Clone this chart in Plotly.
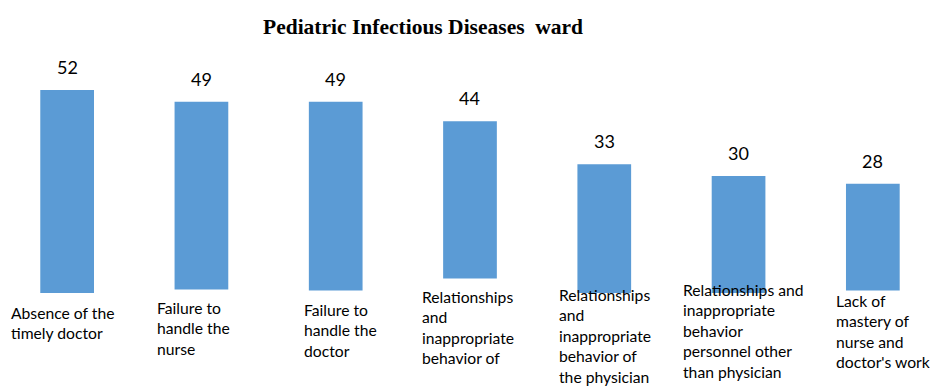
import plotly.graph_objects as go

# Reasons reported in the pediatric infectious diseases ward
categories = [
    "Absence of the<br>timely doctor",
    "Failure to<br>handle the<br>nurse",
    "Failure to<br>handle the<br>doctor",
    "Relationships<br>and<br>inappropriate<br>behavior of",
    "Relationships<br>and<br>inappropriate<br>behavior of<br>the physician",
    "Relationships and<br>inappropriate<br>behavior<br>personnel other<br>than physician",
    "Lack of<br>mastery of<br>nurse and<br>doctor's work",
]
values = [52, 49, 49, 44, 33, 30, 28]

BAR_COLOR = "#5B9BD5"
LABEL_FONT = dict(family="Lato, Open Sans, sans-serif", size=15.7, color="#000000")

# per-label horizontal offset of the text from the bar centre (px), top offset below the
# baseline (px), box padding and whether the label box is opaque
label_dx = [-57, -45, -33, -49, -46, -57, -38]
label_dy = [10, 5, 7, -6, -8, -13, -2]
label_pad = [1, 9, 10, 9, 0, 0, 1]
label_bg = [True, True, True, True, False, False, True]

x = list(range(len(values)))

fig = go.Figure(
    go.Bar(
        x=x,
        y=values,
        width=0.40,
        marker=dict(color=BAR_COLOR, line=dict(width=0)),
        hoverinfo="skip",
    )
)

annotations = []
# value labels above the bars
for xi, v in zip(x, values):
    annotations.append(dict(
        x=xi, y=v, xref="x", yref="y", text=str(v), showarrow=False,
        xanchor="center", yanchor="bottom", yshift=10,
        font=dict(family="Lato, Open Sans, sans-serif", size=18, color="#000000"),
    ))

# category labels below the bars
for xi, txt, dx, dy, pad, bg in zip(x, categories, label_dx, label_dy, label_pad, label_bg):
    annotations.append(dict(
        x=xi, y=0, xref="x", yref="y", text=txt, showarrow=False,
        xanchor="left", yanchor="top", align="left",
        xshift=dx - pad, yshift=-dy + pad,
        borderpad=pad,
        bgcolor="#FFFFFF" if bg else "rgba(0,0,0,0)",
        font=LABEL_FONT,
    ))

# chart title
annotations.append(dict(
    x=0.453, y=1.0 + (60 - 27) / 233.0, xref="paper", yref="paper",
    text="<b>Pediatric Infectious Diseases  ward</b>",
    showarrow=False, xanchor="center", yanchor="middle",
    font=dict(family="Liberation Serif, Times New Roman, serif", size=21.5, color="#000000"),
))

fig.update_layout(
    width=933,
    height=387,
    margin=dict(l=0, r=0, t=60, b=94),
    paper_bgcolor="#FFFFFF",
    plot_bgcolor="#FFFFFF",
    showlegend=False,
    xaxis=dict(range=[-0.5, 6.448], showticklabels=False, showgrid=False,
               zeroline=False, showline=False, ticks=""),
    yaxis=dict(range=[0, 59.7], showticklabels=False, showgrid=False,
               zeroline=False, showline=False, ticks=""),
    annotations=annotations,
)

fig.write_html("out.html")
